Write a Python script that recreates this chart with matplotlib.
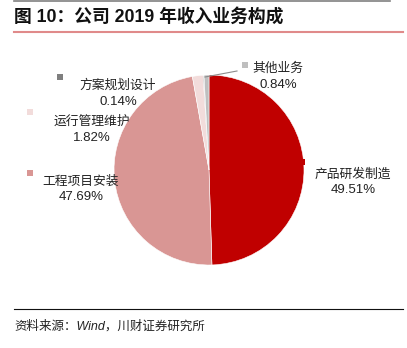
import matplotlib.pyplot as plt
from matplotlib.lines import Line2D
from matplotlib.patches import Rectangle

# revenue breakdown, 2019
categories = ["产品研发制造", "工程项目安装", "运行管理维护", "方案规划设计", "其他业务"]
shares = [49.51, 47.69, 1.82, 0.14, 0.84]
colors = ["#C00000", "#D99694", "#F2DCDB", "#7F7F7F", "#BFBFBF"]

W, H = 407, 348
plt.rcParams["font.family"] = ["Liberation Sans", "Noto Sans CJK SC", "DejaVu Sans"]

fig = plt.figure(figsize=(W / 100, H / 100), dpi=100)


def fx(px):
    return px / W


def fy(py):
    return 1 - py / H


# pie area
cx, cy, r = 209, 170, 95
ax = fig.add_axes([fx(cx - r), fy(cy + r), 2 * r / W, 2 * r / H])
ax.pie(shares, colors=colors, startangle=90, counterclock=False,
       radius=1.0, wedgeprops=dict(edgecolor="white", linewidth=0.4))
ax.set_xlim(-1, 1)
ax.set_ylim(-1, 1)
ax.set_aspect("equal")
ax.axis("off")

# label blocks: (square x, square y, text center x, name y, value y)
label_pos = [
    (302, 162, 353, 174, 190),
    (30, 173, 81, 181, 197),
    (30, 112, 92, 121, 138),
    (60, 77, 118, 85, 102),
    (245, 65, 278, 68, 85),
]
cjk = ["Noto Sans CJK SC", "DejaVu Sans"]
for name, val, col, (sx, sy, tx, ny, vy) in zip(categories, shares, colors, label_pos):
    fig.patches.append(Rectangle((fx(sx - 3), fy(sy + 3)), 6 / W, 6 / H,
                                 transform=fig.transFigure, facecolor=col,
                                 edgecolor="none"))
    fig.text(fx(tx), fy(ny), name, ha="center", va="center", fontsize=9.2,
             family=cjk, color="#222222")
    fig.text(fx(tx), fy(vy), f"{val:.2f}%", ha="center", va="center",
             fontsize=9.5, color="#222222")

# leader line for the small slice at the top
fig.add_artist(Line2D([fx(205), fx(237)], [fy(77), fy(71)],
                      transform=fig.transFigure, color="#8C8C8C", lw=0.8))

# header and footer rules
fig.add_artist(Line2D([fx(14), fx(390)], [fy(0.5), fy(0.5)],
                      transform=fig.transFigure, color="#808080", lw=1.2))
fig.add_artist(Line2D([fx(14), fx(403)], [fy(32), fy(32)],
                      transform=fig.transFigure, color="#E08A8A", lw=1.5))
fig.add_artist(Line2D([fx(14), fx(403)], [fy(309), fy(309)],
                      transform=fig.transFigure, color="#111111", lw=0.8))

fig.text(fx(14), fy(17), "图 10：公司 2019 年收入业务构成", ha="left", va="center",
         fontsize=12.8, fontweight="bold", color="#111111")
fig.text(fx(14), fy(326), "资料来源：Wind，川财证券研究所", ha="left", va="center",
         fontsize=9, style="italic", color="#222222")

fig.savefig("out.png", dpi=100)
